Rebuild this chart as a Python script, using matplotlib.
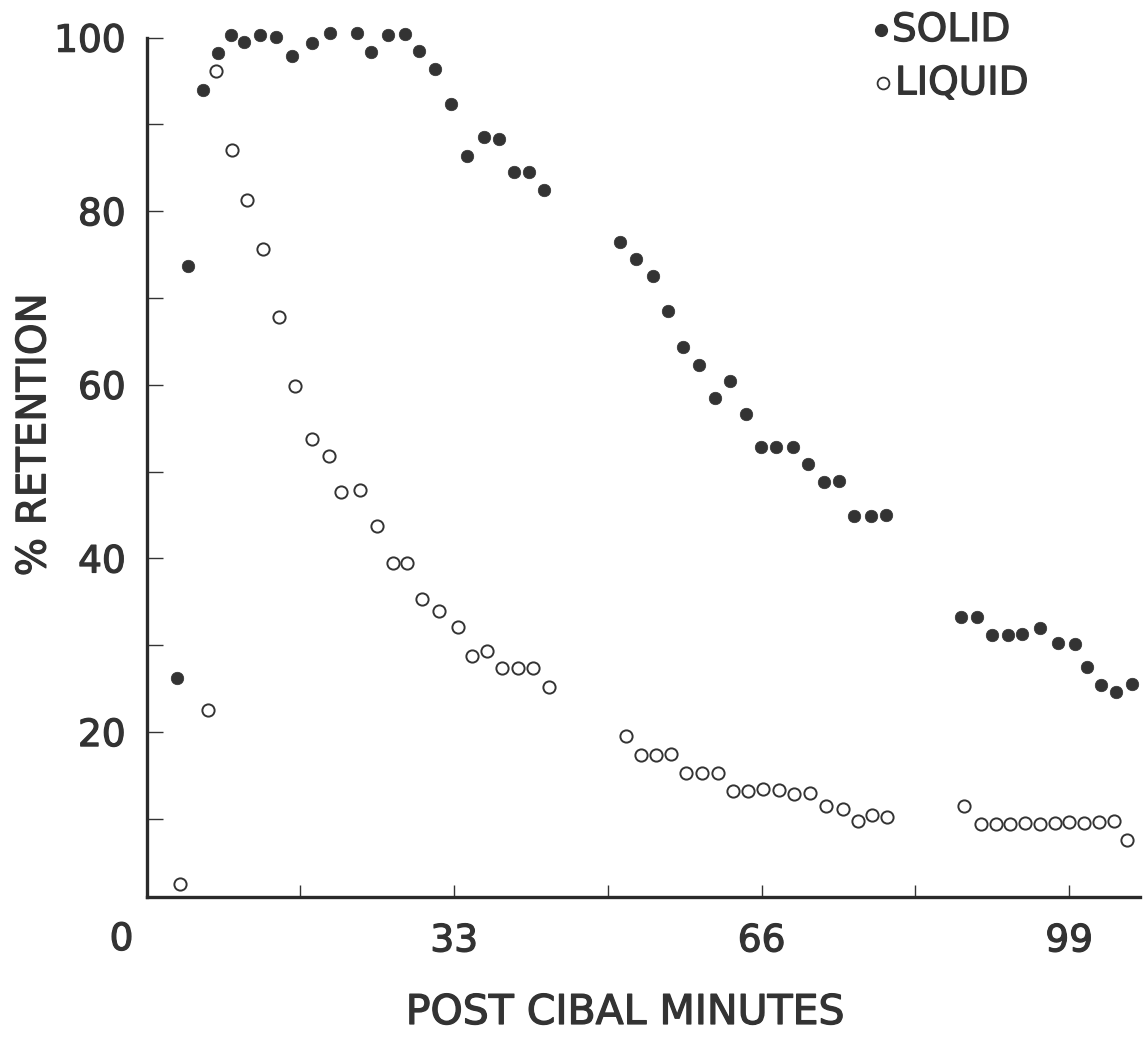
import matplotlib
matplotlib.use("Agg")
import matplotlib.pyplot as plt
import matplotlib.patheffects as pe
from matplotlib.lines import Line2D
from matplotlib.transforms import ScaledTranslation, blended_transform_factory

# ---------------- data ----------------
solid_minutes = [3.3, 4.5, 6.1, 7.7, 9.1, 10.5, 12.2, 13.9, 15.6, 17.7,
                 19.7, 22.6, 24.1, 25.9, 27.7, 29.2, 30.9, 32.7, 34.4, 36.2,
                 37.8, 39.4, 41.0, 42.6, 50.8, 52.5, 54.3, 56.0, 57.6, 59.3,
                 61.0, 62.6, 64.3, 65.9, 67.5, 69.4, 71.0, 72.7, 74.3, 75.9,
                 77.7, 79.3, 87.4, 89.1, 90.7, 92.4, 93.9, 95.9, 97.8, 99.6,
                 100.9, 102.4, 104.0, 105.7]
solid_retention = [26.2, 73.7, 94.0, 98.2, 100.3, 99.5, 100.3, 100.1, 97.9, 99.4,
                   100.5, 100.5, 98.3, 100.3, 100.4, 98.5, 96.4, 92.4, 86.4, 88.5,
                   88.3, 84.5, 84.5, 82.5, 76.5, 74.5, 72.5, 68.5, 64.4, 62.3,
                   58.5, 60.5, 56.6, 52.8, 52.8, 52.8, 50.9, 48.8, 48.9, 44.9,
                   44.9, 45.0, 33.3, 33.3, 31.2, 31.2, 31.3, 32.0, 30.3, 30.2,
                   27.5, 25.4, 24.6, 25.5]

liquid_minutes = [3.6, 6.6, 7.5, 9.2, 10.8, 12.5, 14.2, 15.9, 17.8, 19.6,
                  20.9, 22.9, 24.7, 26.4, 28.0, 29.6, 31.4, 33.4, 34.9, 36.5,
                  38.1, 39.9, 41.5, 43.2, 51.5, 53.1, 54.7, 56.3, 57.9, 59.6,
                  61.3, 62.9, 64.5, 66.2, 67.9, 69.5, 71.2, 72.9, 74.7, 76.3,
                  77.8, 79.4, 87.7, 89.5, 91.1, 92.7, 94.3, 95.9, 97.5, 99.0,
                  100.6, 102.2, 103.8, 105.2]
liquid_retention = [2.5, 22.5, 96.2, 87.1, 81.3, 75.7, 67.8, 59.9, 53.8, 51.8,
                    47.7, 47.9, 43.7, 39.5, 39.5, 35.3, 33.9, 32.1, 28.8, 29.3,
                    27.4, 27.4, 27.4, 25.2, 19.5, 17.3, 17.4, 17.5, 15.3, 15.3,
                    15.3, 13.2, 13.2, 13.4, 13.3, 12.9, 13.0, 11.5, 11.1, 9.8,
                    10.4, 10.2, 11.5, 9.4, 9.4, 9.4, 9.5, 9.4, 9.5, 9.6,
                    9.5, 9.6, 9.7, 7.6]

x_major = [33, 66, 99]
x_minor = [16.5, 49.5, 82.5]
y_major = [20, 40, 60, 80, 100]
y_minor = [10, 30, 50, 70, 90]
series_names = ["SOLID", "LIQUID"]

# ---------------- style ----------------
INK = "#333333"
FONT = ["DejaVu Sans"]
plt.rcParams["font.family"] = FONT
THICK = [pe.withStroke(linewidth=0.9, foreground=INK)]

fig = plt.figure(figsize=(11.44, 10.43), dpi=100)
fig.patch.set_facecolor("white")
ax = fig.add_axes([0.1281, 0.140, 0.8684, 0.8239])

ax.plot(solid_minutes, solid_retention, linestyle="none", marker="o",
        markersize=9.0, markerfacecolor=INK, markeredgecolor=INK,
        markeredgewidth=0.5, clip_on=False, zorder=3)
ax.plot(liquid_minutes, liquid_retention, linestyle="none", marker="o",
        markersize=8.8, markerfacecolor="white", markeredgecolor=INK,
        markeredgewidth=1.4, clip_on=False, zorder=3)

ax.set_xlim(0, 106.6)
ax.set_ylim(1.0, 100)

for s in ["top", "right"]:
    ax.spines[s].set_visible(False)
for s in ["left", "bottom"]:
    ax.spines[s].set_linewidth(2.4)
    ax.spines[s].set_color("#2a2a2a")

ax.set_xticks(x_major)
ax.set_xticks(x_minor, minor=True)
ax.set_yticks(y_major)
ax.set_yticks(y_minor, minor=True)
ax.set_xticklabels([str(v) for v in x_major])
ax.set_yticklabels([str(v) for v in y_major])

ax.tick_params(axis="y", which="both", direction="in", length=11.5,
               width=1.0, color=INK, labelsize=27, labelcolor=INK, pad=15)
ax.tick_params(axis="x", which="both", direction="in", length=8.5,
               width=1.0, color=INK, labelsize=27, labelcolor=INK, pad=19)
for lab in ax.get_xticklabels() + ax.get_yticklabels():
    lab.set_path_effects(THICK)

# the "0" label at the origin, set off to the left of the corner
tr = blended_transform_factory(ax.transData, ax.transAxes)
ax.text(0, 0, "0", transform=tr + ScaledTranslation(-0.25, -0.43, fig.dpi_scale_trans),
        ha="center", va="center", fontsize=27, color=INK, path_effects=THICK)

ax.set_xlabel("POST CIBAL MINUTES", fontsize=29.5, color=INK, path_effects=THICK)
ax.xaxis.label.set_va("center")
ax.xaxis.set_label_coords(0.4816, -0.135)
ax.set_ylabel("% RETENTION", fontsize=29, color=INK, path_effects=THICK)
ax.yaxis.label.set_va("center")
ax.yaxis.set_label_coords(-0.113, 0.538)

# legend drawn as markers + text above the plot
fig.add_artist(Line2D([880.7 / 1144], [1 - 30 / 1043], marker="o", linestyle="none",
                      markersize=8.5, markerfacecolor=INK, markeredgecolor=INK,
                      transform=fig.transFigure))
fig.add_artist(Line2D([883.0 / 1144], [1 - 83.3 / 1043], marker="o", linestyle="none",
                      markersize=8.5, markerfacecolor="white", markeredgecolor=INK,
                      markeredgewidth=1.3, transform=fig.transFigure))
fig.text(892 / 1144, 1 - 30 / 1043, series_names[0], fontsize=28, color=INK,
         ha="left", va="center", path_effects=THICK)
fig.text(895 / 1144, 1 - 83.3 / 1043, series_names[1], fontsize=28, color=INK,
         ha="left", va="center", path_effects=THICK)

fig.savefig("out.png", dpi=100, facecolor="white")
